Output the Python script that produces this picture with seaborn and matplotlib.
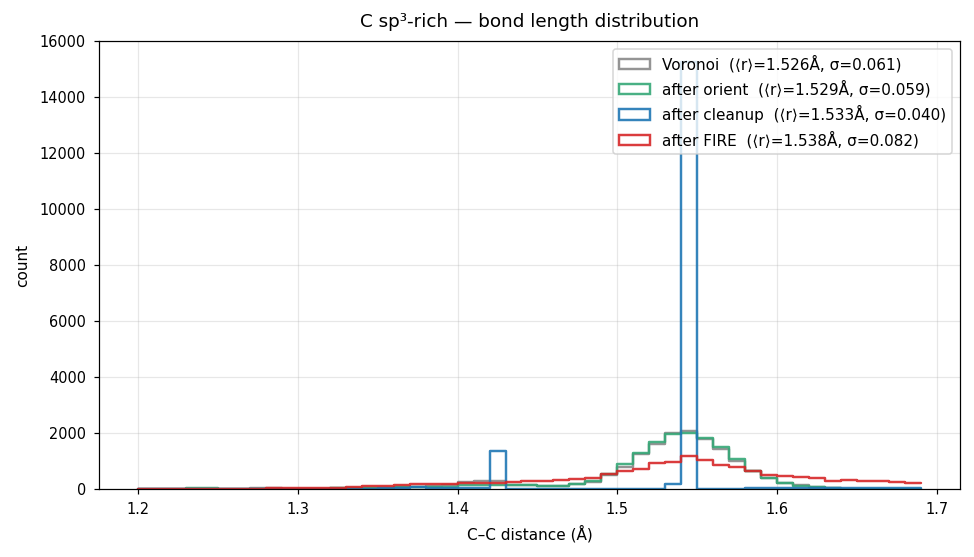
import numpy as np
import pandas as pd
import matplotlib
matplotlib.use("Agg")
import matplotlib.pyplot as plt
import matplotlib.patches as mpatches
import seaborn as sns

sns.set_style("ticks", rc={"text.color": "black", "axes.labelcolor": "black",
                           "xtick.color": "black", "ytick.color": "black",
                           "axes.edgecolor": "black", "grid.color": "#b0b0b0"})

# bins 1.20 .. 1.69 (0.01 wide), counts read per bin start
BIN_LEFT = np.round(np.arange(1.20, 1.685, 0.01), 2)

voronoi = [0, 0, 0, 15, 15, 0, 0, 20, 20, 5,
           10, 15, 20, 25, 35, 45, 60, 65, 110, 150,
           250, 285, 300, 150, 155, 120, 120, 165, 262, 515,
           800, 1260, 1620, 1990, 2060, 1790, 1440, 1010, 650, 385,
           220, 145, 70, 25, 10, 5, 5, 0, 0]
orient = [0, 0, 0, 20, 20, 0, 0, 5, 5, 5,
          10, 15, 20, 25, 35, 45, 60, 60, 70, 75,
          130, 140, 150, 145, 155, 120, 120, 170, 285, 525,
          880, 1280, 1690, 1980, 2000, 1835, 1500, 1070, 650, 385,
          215, 120, 70, 20, 10, 5, 5, 0, 0]
cleanup = [0, 0, 0, 0, 0, 0, 0, 0, 0, 0,
           0, 0, 0, 0, 0, 20, 30, 70, 40, 30,
           30, 30, 1350, 10, 10, 5, 5, 5, 5, 5,
           5, 5, 5, 170, 15250, 10, 10, 15, 20, 25,
           30, 20, 20, 20, 20, 20, 20, 20, 20]
fire = [0, 0, 0, 0, 0, 0, 0, 5, 20, 20,
        25, 30, 35, 60, 95, 95, 130, 165, 165, 170,
        215, 215, 225, 240, 285, 285, 310, 355, 380, 525,
        645, 725, 930, 965, 1165, 1025, 845, 785, 645, 500,
        450, 440, 405, 300, 335, 290, 290, 250, 225]

SERIES = [
    ("Voronoi  (⟨r⟩=1.526Å, σ=0.061)", voronoi, "#888888"),
    ("after orient  (⟨r⟩=1.529Å, σ=0.059)", orient, "#35A877"),
    ("after cleanup  (⟨r⟩=1.533Å, σ=0.040)", cleanup, "#1f77b4"),
    ("after FIRE  (⟨r⟩=1.538Å, σ=0.082)", fire, "#d62728"),
]

DPI = 110
fig = plt.figure(figsize=(974 / DPI, 557 / DPI), dpi=DPI)
ax = fig.add_axes([0.1016, 0.1221, 0.884, 0.8043])

handles = []
for label, counts, color in SERIES:
    df = pd.DataFrame({"r": BIN_LEFT + 0.005, "n": counts})
    sns.histplot(data=df, x="r", weights="n", binwidth=0.01, binrange=(1.20, 1.69),
                 element="step", fill=False, color=color, linewidth=1.6, alpha=0.9,
                 ax=ax)
    handles.append(mpatches.Patch(facecolor="none", edgecolor=color, linewidth=1.6,
                                  alpha=0.9, label=label))

ax.set_xticks([1.2, 1.3, 1.4, 1.5, 1.6, 1.7])
ax.tick_params(labelsize=9.5, pad=5)
ax.grid(True, alpha=0.3)
ax.set_xlabel("C–C distance (Å)", fontsize=10, labelpad=5)
ax.set_ylabel("count", fontsize=10, labelpad=6)
ax.set_title("C sp³-rich — bond length distribution", fontsize=12, pad=9)
ax.legend(handles=handles, loc="upper right", fontsize=10)

fig.savefig("out.png", dpi=DPI)
